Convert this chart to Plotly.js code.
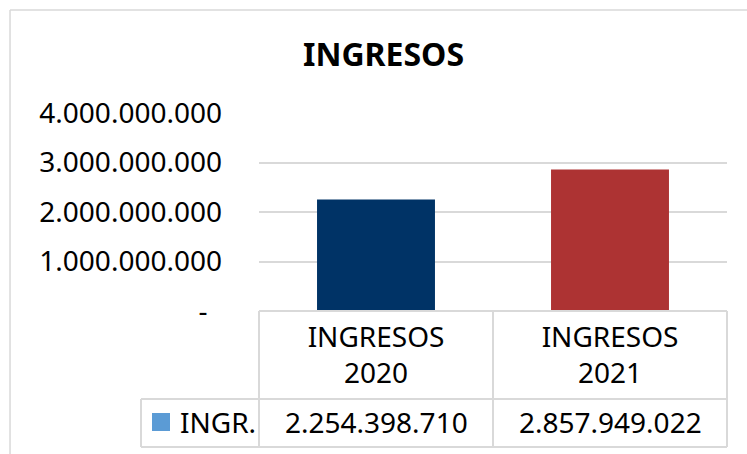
<!DOCTYPE html>
<html>
<head>
<meta charset="utf-8">
<script src="https://cdn.plot.ly/plotly-3.0.1.min.js"></script>
<style>
  html, body { margin: 0; padding: 0; background: #fff; }
  #chart { width: 747px; height: 454px; }
</style>
</head>
<body>
<div id="chart"></div>
<script>
// ---- data ----
const chartTitle = "INGRESOS";
const categories = ["INGRESOS 2020", "INGRESOS 2021"];
const categoryLabels = ["INGRESOS<br>2020", "INGRESOS<br>2021"];
const seriesName = "INGR.";
const values = [2254398710, 2857949022];
const barColors = ["#003366", "#AD3333"];
const legendColor = "#5B9BD5";
const yTickVals = [0, 1000000000, 2000000000, 3000000000, 4000000000];
const yTickText = ["-\u00a0\u00a0", "1.000.000.000", "2.000.000.000", "3.000.000.000", "4.000.000.000"];

function fmt(v) {
  return String(Math.round(v)).replace(/\B(?=(\d{3})+(?!\d))/g, ".");
}

const FONT = "'Noto Sans', 'Open Sans', sans-serif";
const GRID = "#D9D9D9";

const trace = {
  type: "bar",
  x: categories,
  y: values,
  name: seriesName,
  marker: { color: barColors, line: { width: 0 } },
  hoverinfo: "skip",
  showlegend: false
};

// table geometry (paper coords relative to plot area)
const tblLeft = -0.2521;
const rowMid = -0.4444;
const rowBot = -0.6869;
const line = { color: GRID, width: 2 };

const shapes = [
  // outer chart frame (left + top)
  { type: "line", xref: "paper", yref: "paper", x0: -0.532, x1: -0.532, y0: 1.5202, y1: -0.75, line: { color: GRID, width: 1.5 } },
  { type: "line", xref: "paper", yref: "paper", x0: -0.532, x1: 1.06, y0: 1.5202, y1: 1.5202, line: { color: GRID, width: 1.5 } },
  // horizontal table lines
  { type: "line", xref: "paper", yref: "paper", x0: 0, x1: 1, y0: 0, y1: 0, line: line },
  { type: "line", xref: "paper", yref: "paper", x0: tblLeft, x1: 1, y0: rowMid, y1: rowMid, line: line },
  { type: "line", xref: "paper", yref: "paper", x0: tblLeft, x1: 1, y0: rowBot, y1: rowBot, line: line },
  // vertical table lines
  { type: "line", xref: "paper", yref: "paper", x0: 0, x1: 0, y0: 0, y1: rowBot, line: line },
  { type: "line", xref: "paper", yref: "paper", x0: 0.5, x1: 0.5, y0: 0, y1: rowBot, line: line },
  { type: "line", xref: "paper", yref: "paper", x0: 1, x1: 1, y0: 0, y1: rowBot, line: line },
  { type: "line", xref: "paper", yref: "paper", x0: tblLeft, x1: tblLeft, y0: rowMid, y1: rowBot, line: line },
  // legend key square
  { type: "rect", xref: "paper", yref: "paper", x0: (152 - 259) / 468, x1: (170 - 259) / 468, y0: (311 - 413) / 198, y1: (311 - 431) / 198, fillcolor: legendColor, line: { width: 0 } }
];

const annotations = [];
annotations.push({
  xref: "paper", yref: "paper", x: (178 - 259) / 468, y: (311 - 422) / 198,
  xanchor: "left", yanchor: "middle", showarrow: false,
  text: seriesName, font: { family: FONT, size: 28, color: "#000" }
});
categories.forEach(function (c, i) {
  annotations.push({
    xref: "x", yref: "paper", x: c, y: (311 - 422) / 198,
    xanchor: "center", yanchor: "middle", showarrow: false,
    text: fmt(values[i]), font: { family: FONT, size: 28, color: "#000" }
  });
});

const layout = {
  width: 747,
  height: 454,
  margin: { l: 259, r: 20, t: 113, b: 143, pad: 0 },
  paper_bgcolor: "#fff",
  plot_bgcolor: "#fff",
  title: {
    text: chartTitle,
    font: { family: FONT, size: 32, color: "#000", weight: "bold" },
    x: 383.5 / 747, xref: "container", xanchor: "center",
    y: 1 - 55 / 454, yref: "container", yanchor: "middle"
  },
  bargap: 0.496,
  xaxis: {
    type: "category",
    range: [-0.5, 1.5],
    tickvals: categories,
    ticktext: categoryLabels,
    tickfont: { family: FONT, size: 28, color: "#000" },
    ticks: "",
    ticklabelstandoff: 7,
    showgrid: false,
    showline: false,
    zeroline: false,
    fixedrange: true
  },
  yaxis: {
    range: [0, 4000000000],
    tickvals: yTickVals,
    ticktext: yTickText,
    tickfont: { family: FONT, size: 28, color: "#000" },
    ticks: "",
    ticklabelstandoff: 36,
    showgrid: true,
    gridcolor: GRID,
    gridwidth: 2,
    zeroline: false,
    showline: false,
    fixedrange: true
  },
  shapes: shapes,
  annotations: annotations,
  showlegend: false
};

Plotly.newPlot("chart", [trace], layout, { displayModeBar: false, staticPlot: true });
</script>
</body>
</html>
